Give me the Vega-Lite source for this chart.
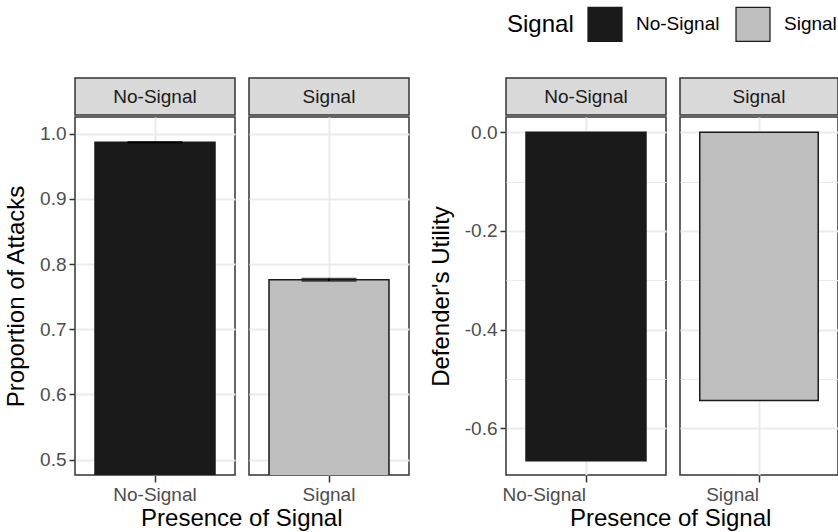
{
  "$schema": "https://vega.github.io/schema/vega-lite/v6.json",
  "background": "white",
  "padding": {"left": 3, "top": 6, "right": 0, "bottom": 2},
  "config": {
    "font": "Liberation Sans",
    "view": {"stroke": "#333333", "strokeWidth": 1.5, "fill": "white"},
    "axis": {"domain": false, "tickColor": "#333333", "tickWidth": 1.5, "tickSize": 6, "labelFontSize": 19, "labelColor": "#4d4d4d", "labelFont": "Liberation Sans", "titleFont": "Liberation Sans", "titleFontSize": 24, "titleFontWeight": "normal", "titleColor": "black", "gridColor": "#ebebeb", "labelPadding": 3, "titlePadding": 11},
    "legend": {"orient": "none", "direction": "horizontal", "legendX": 432, "legendY": -72, "titleOrient": "left", "titleFontSize": 24, "titleFontWeight": "normal", "titleColor": "black", "titlePadding": 13, "labelFontSize": 19, "labelColor": "black", "labelOffset": 13, "columnPadding": 13, "symbolType": "square", "symbolSize": 1156, "symbolStrokeColor": "#1a1a1a", "symbolStrokeWidth": 1.2, "symbolOpacity": 1, "padding": 0},
    "title": {"font": "Liberation Sans", "fontSize": 24, "fontWeight": "normal", "color": "black"}
  },
  "datasets": {
    "attacks": [
      {"signal": "No-Signal", "prop": 0.987, "lo": 0.9862, "hi": 0.9878},
      {"signal": "Signal", "prop": 0.776, "lo": 0.7742, "hi": 0.7778}
    ],
    "utility": [
      {"signal": "No-Signal", "util": -0.666},
      {"signal": "Signal", "util": -0.544}
    ]
  },
  "spacing": 18,
  "hconcat": [
    {
      "spacing": 12,
      "title": {"text": "Presence of Signal", "orient": "bottom", "anchor": "middle", "offset": 2, "dx": 35},
      "hconcat": [
        {
          "spacing": 0,
          "vconcat": [
            {
              "width": 160, "height": 37,
              "view": {"fill": "#d9d9d9", "stroke": "#333333", "strokeWidth": 1.5},
              "data": {"name": "attacks"},
              "transform": [{"filter": "datum.signal === 'No-Signal'"}],
              "mark": {"type": "text", "fontSize": 19, "color": "#1a1a1a", "font": "Liberation Sans"},
              "encoding": {"text": {"field": "signal", "type": "nominal"}}
            },
            {
              "width": 160, "height": 358,
              "data": {"name": "attacks"},
              "transform": [{"filter": "datum.signal === 'No-Signal'"}],
              "encoding": {
                "x": {"field": "signal", "type": "nominal", "title": null, "scale": {"paddingInner": 0, "paddingOuter": 0.1667},
                      "axis": {"labelAngle": 0, "grid": true, "gridWidth": 2, "bandPosition": 0.5, "tickSize": 7}}
              },
              "layer": [
                {
                  "mark": {"type": "bar", "stroke": "#1a1a1a", "strokeWidth": 1.5, "clip": true},
                  "encoding": {
                    "y": {"field": "prop", "type": "quantitative", "title": "Proportion of Attacks",
                          "scale": {"domain": [0.4765, 1.0257], "zero": false, "nice": false},
                          "axis": {"values": [0.5, 0.55, 0.6, 0.65, 0.7, 0.75, 0.8, 0.85, 0.9, 0.95, 1.0],
                                   "labelExpr": "abs(datum.value*10 - round(datum.value*10)) < 0.1 ? format(datum.value, '.1f') : ''",
                                   "tickOpacity": {"condition": {"test": "abs(datum.value*10 - round(datum.value*10)) > 0.1", "value": 0}, "value": 1},
                                   "gridWidth": {"condition": {"test": "abs(datum.value*10 - round(datum.value*10)) > 0.1", "value": 1.1}, "value": 2}}},
                    "y2": {"datum": 0},
                    "color": {"field": "signal", "type": "nominal", "title": "Signal", "scale": {"domain": ["No-Signal", "Signal"], "range": ["#1a1a1a", "#bebebe"]}}
                  }
                },
                {
                  "mark": {"type": "errorbar", "ticks": {"size": 55, "thickness": 1.5, "color": "black"}, "rule": {"color": "black", "strokeWidth": 1.5}},
                  "encoding": {
                    "y": {"field": "lo", "type": "quantitative", "title": "Proportion of Attacks"},
                    "y2": {"field": "hi"}
                  }
                }
              ]
            }
          ]
        },
        {
          "spacing": 0,
          "vconcat": [
            {
              "width": 160, "height": 37,
              "view": {"fill": "#d9d9d9", "stroke": "#333333", "strokeWidth": 1.5},
              "data": {"name": "attacks"},
              "transform": [{"filter": "datum.signal === 'Signal'"}],
              "mark": {"type": "text", "fontSize": 19, "color": "#1a1a1a", "font": "Liberation Sans"},
              "encoding": {"text": {"field": "signal", "type": "nominal"}}
            },
            {
              "width": 160, "height": 358,
              "data": {"name": "attacks"},
              "transform": [{"filter": "datum.signal === 'Signal'"}],
              "encoding": {
                "x": {"field": "signal", "type": "nominal", "title": null, "scale": {"paddingInner": 0, "paddingOuter": 0.1667},
                      "axis": {"labelAngle": 0, "grid": true, "gridWidth": 2, "bandPosition": 0.5, "tickSize": 7}}
              },
              "layer": [
                {
                  "mark": {"type": "bar", "stroke": "#1a1a1a", "strokeWidth": 1.5, "clip": true},
                  "encoding": {
                    "y": {"field": "prop", "type": "quantitative", "title": null,
                          "scale": {"domain": [0.4765, 1.0257], "zero": false, "nice": false},
                          "axis": {"values": [0.5, 0.55, 0.6, 0.65, 0.7, 0.75, 0.8, 0.85, 0.9, 0.95, 1.0],
                                   "labels": false, "ticks": false,
                                   "gridWidth": {"condition": {"test": "abs(datum.value*10 - round(datum.value*10)) > 0.1", "value": 1.1}, "value": 2}}},
                    "y2": {"datum": 0},
                    "color": {"field": "signal", "type": "nominal", "title": "Signal", "scale": {"domain": ["No-Signal", "Signal"], "range": ["#1a1a1a", "#bebebe"]}}
                  }
                },
                {
                  "mark": {"type": "errorbar", "ticks": {"size": 55, "thickness": 1.5, "color": "black"}, "rule": {"color": "black", "strokeWidth": 1.5}},
                  "encoding": {
                    "y": {"field": "lo", "type": "quantitative", "title": null},
                    "y2": {"field": "hi"}
                  }
                }
              ]
            }
          ]
        }
      ]
    },
    {
      "spacing": 12,
      "title": {"text": "Presence of Signal", "orient": "bottom", "anchor": "middle", "offset": 2, "dx": 37},
      "hconcat": [
        {
          "spacing": 0,
          "vconcat": [
            {
              "width": 160, "height": 37,
              "view": {"fill": "#d9d9d9", "stroke": "#333333", "strokeWidth": 1.5},
              "data": {"name": "utility"},
              "transform": [{"filter": "datum.signal === 'No-Signal'"}],
              "mark": {"type": "text", "fontSize": 19, "color": "#1a1a1a", "font": "Liberation Sans"},
              "encoding": {"text": {"field": "signal", "type": "nominal"}}
            },
            {
              "width": 160, "height": 358,
              "data": {"name": "utility"},
              "transform": [{"filter": "datum.signal === 'No-Signal'"}],
              "mark": {"type": "bar", "stroke": "#1a1a1a", "strokeWidth": 1.5, "clip": true},
              "encoding": {
                "x": {"field": "signal", "type": "nominal", "title": null, "scale": {"paddingInner": 0, "paddingOuter": 0.1667},
                      "axis": {"labelAngle": 0, "labelAlign": "right", "grid": true, "gridWidth": 2, "bandPosition": 0.5, "tickSize": 7}},
                "y": {"field": "util", "type": "quantitative", "title": "Defender's Utility",
                      "scale": {"domain": [-0.6948, 0.031], "zero": false, "nice": false},
                      "axis": {"values": [-0.6, -0.5, -0.4, -0.3, -0.2, -0.1, 0.0],
                               "labelExpr": "abs(datum.value*5 - round(datum.value*5)) < 0.1 ? (datum.value < -0.01 ? '-' : '') + format(abs(datum.value), '.1f') : ''",
                               "tickOpacity": {"condition": {"test": "abs(datum.value*5 - round(datum.value*5)) > 0.1", "value": 0}, "value": 1},
                               "gridWidth": {"condition": {"test": "abs(datum.value*5 - round(datum.value*5)) > 0.1", "value": 1.1}, "value": 2}}},
                "y2": {"datum": 0},
                "color": {"field": "signal", "type": "nominal", "title": "Signal", "scale": {"domain": ["No-Signal", "Signal"], "range": ["#1a1a1a", "#bebebe"]}}
              }
            }
          ]
        },
        {
          "spacing": 0,
          "vconcat": [
            {
              "width": 158, "height": 37,
              "view": {"fill": "#d9d9d9", "stroke": "#333333", "strokeWidth": 1.5},
              "data": {"name": "utility"},
              "transform": [{"filter": "datum.signal === 'Signal'"}],
              "mark": {"type": "text", "fontSize": 19, "color": "#1a1a1a", "font": "Liberation Sans"},
              "encoding": {"text": {"field": "signal", "type": "nominal"}}
            },
            {
              "width": 158, "height": 358,
              "data": {"name": "utility"},
              "transform": [{"filter": "datum.signal === 'Signal'"}],
              "mark": {"type": "bar", "stroke": "#1a1a1a", "strokeWidth": 1.5, "clip": true},
              "encoding": {
                "x": {"field": "signal", "type": "nominal", "title": null, "scale": {"paddingInner": 0, "paddingOuter": 0.1667},
                      "axis": {"labelAngle": 0, "labelAlign": "right", "grid": true, "gridWidth": 2, "bandPosition": 0.5, "tickSize": 7}},
                "y": {"field": "util", "type": "quantitative", "title": null,
                      "scale": {"domain": [-0.6948, 0.031], "zero": false, "nice": false},
                      "axis": {"values": [-0.6, -0.5, -0.4, -0.3, -0.2, -0.1, 0.0], "labels": false, "ticks": false,
                               "gridWidth": {"condition": {"test": "abs(datum.value*5 - round(datum.value*5)) > 0.1", "value": 1.1}, "value": 2}}},
                "y2": {"datum": 0},
                "color": {"field": "signal", "type": "nominal", "title": "Signal", "scale": {"domain": ["No-Signal", "Signal"], "range": ["#1a1a1a", "#bebebe"]}}
              }
            }
          ]
        }
      ]
    }
  ]
}
